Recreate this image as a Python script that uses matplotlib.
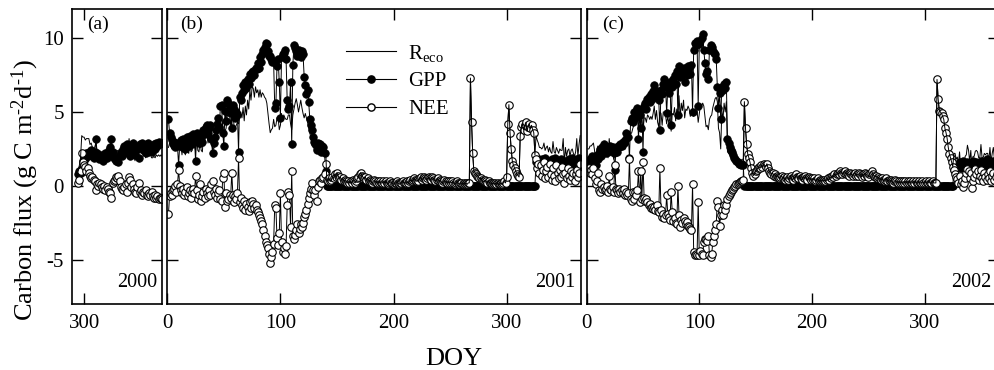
import numpy as np
import matplotlib.pyplot as plt
from matplotlib.lines import Line2D

plt.rcParams['font.family'] = 'Liberation Serif'
plt.rcParams['mathtext.fontset'] = 'custom'
plt.rcParams['mathtext.rm'] = 'Liberation Serif'
plt.rcParams['mathtext.it'] = 'Liberation Serif:italic'
plt.rcParams['axes.unicode_minus'] = False

# ---- 2000 (DOY 295-366) ----
doy_2000 = np.arange(295, 367)
gpp_2000 = [0.8, 1.0, 0.9, 1.2, 1.7, 1.9, 1.8, 2.2, 2.0, 2.3,
            2.1, 2.4, 2.0, 1.9, 2.3, 3.2, 2.2, 2.0, 1.8, 2.1,
            1.9, 1.7, 2.0, 2.2, 1.9, 2.0, 2.4, 2.6, 3.2, 2.3,
            1.9, 1.8, 1.7, 1.9, 1.6, 2.1, 2.3, 2.0, 2.5, 2.7,
            2.4, 2.8, 2.2, 2.6, 2.0, 2.7, 2.9, 2.3, 2.1, 2.6,
            2.5, 1.9, 2.8, 2.6, 2.9, 2.4, 2.7, 2.2, 2.8, 2.9,
            2.5, 2.7, 2.3, 2.6, 2.8, 2.5, 2.9, 2.7, 3.0, 2.8, 2.9, 2.9]
nee_2000 = [0.2, 0.4, 1.0, 2.2, 1.6, 1.4, 1.3, 1.0, 1.2, 0.9,
            0.7, 0.5, 0.6, 0.4, 0.3, -0.3, 0.1, 0.0, 0.2, 0.1,
            -0.1, -0.2, 0.0, -0.3, -0.1, -0.2, -0.4, -0.5, -0.8, 0.2,
            0.3, 0.4, 0.6, 0.5, 0.7, 0.3, -0.1, -0.2, -0.3, -0.1,
            0.1, -0.4, 0.2, 0.6, 0.4, -0.1, 0.1, -0.2, -0.4, -0.5,
            -0.1, 0.2, -0.4, -0.3, -0.6, -0.4, -0.5, -0.3, -0.6, -0.7,
            -0.5, -0.6, -0.4, -0.7, -0.8, -0.6, -0.8, -0.7, -0.9, -0.8, -0.8, -0.9]
reco_2000 = [1.0, 1.4, 1.9, 3.4, 3.3, 3.3, 3.1, 3.2, 3.2, 3.2,
             2.8, 2.9, 2.6, 2.3, 2.6, 2.9, 2.3, 2.0, 2.0, 2.2,
             1.8, 1.5, 2.0, 1.9, 1.8, 1.8, 2.0, 2.1, 2.4, 2.5,
             2.2, 2.2, 2.3, 2.4, 2.3, 2.4, 2.2, 1.8, 2.2, 2.6,
             2.5, 2.4, 2.4, 3.2, 2.4, 2.6, 3.0, 2.1, 1.7, 2.1,
             2.4, 2.1, 2.4, 2.3, 2.3, 2.0, 2.2, 1.9, 2.2, 2.2,
             2.0, 2.1, 1.9, 1.9, 2.0, 1.9, 2.1, 2.0, 2.1, 2.0, 2.1, 2.0]

# ---- 2001 (DOY 1-365) ----
doy_2001 = np.arange(1, 366)
gpp_2001_spring = [4.5, 3.6, 3.3, 3.1, 2.8, 3.0, 2.6, 2.9, 2.7, 1.4,
                   2.8, 3.1, 2.6, 3.2, 2.9, 2.5, 3.3, 3.0, 2.7, 3.4,
                   3.1, 2.8, 3.5, 3.2, 1.7, 3.6, 3.3, 2.9, 2.9, 3.4,
                   3.0, 3.8, 3.5, 4.0, 4.1, 3.6, 3.9, 4.1, 3.2, 2.2,
                   2.9, 3.3, 3.8, 4.2, 4.6, 4.0, 5.4, 5.5, 3.6, 2.7,
                   5.1, 4.4, 5.8, 5.6, 5.4, 4.9, 3.9, 5.5, 5.2, 4.6,
                   5.0, 4.8, 2.3, 6.0, 5.8, 6.3, 6.8, 6.5, 7.0, 6.6,
                   7.2, 6.9, 7.6, 7.3, 7.7, 7.8, 7.5, 8.0, 7.9, 8.3,
                   8.0, 8.7, 8.4, 8.9, 9.2, 9.4, 9.7, 9.6, 9.1, 8.8,
                   8.8, 8.6, 8.4, 8.4, 5.3, 5.6, 8.1, 8.6, 7.0, 4.6,
                   8.7, 8.9, 9.0, 9.2, 8.6, 5.8, 5.2, 5.4, 7.0, 2.8,
                   8.2, 9.5, 9.3, 9.1, 8.8, 9.2, 9.0, 8.7, 9.1, 8.9,
                   7.4, 6.8, 6.2, 6.5, 5.7, 4.5, 4.1, 3.8, 3.3, 3.0,
                   2.8, 2.4, 2.9, 2.7, 2.8, 2.3, 2.7, 2.6, 2.2, 1.0]
nee_2001_spring = [-1.9, -0.7, -0.5, -0.6, -0.3, -0.2, 0.0, -0.4, 0.1, 1.1,
                   0.0, -0.3, -0.5, -0.2, -0.6, -0.4, -0.1, -0.7, -0.5, -0.3,
                   -0.8, -0.4, -0.2, -0.5, 0.7, -0.3, -0.9, -0.6, 0.1, -1.0,
                   -0.7, -0.4, -0.8, -0.2, -0.5, -0.7, -0.3, -0.6, 0.1, 0.3,
                   -0.4, -0.6, -0.2, -0.8, -0.5, -0.3, -0.9, -1.0, 0.5, 0.9,
                   -1.4, -0.5, -1.0, -0.9, -0.6, -0.8, 0.9, -0.6, -1.1, -0.7,
                   -0.9, -0.5, 1.9, -1.1, -0.8, -1.3, -1.5, -1.0, -1.6, -1.2,
                   -1.4, -1.7, -1.1, -1.5, -1.0, -1.2, -1.5, -1.3, -1.6, -1.8,
                   -2.0, -2.2, -2.4, -2.6, -3.0, -3.4, -3.8, -4.0, -4.2, -4.6,
                   -5.2, -4.8, -4.5, -3.9, -1.3, -1.5, -3.5, -4.0, -3.2, -0.5,
                   -3.8, -4.5, -4.2, -4.6, -4.1, -1.3, -0.4, -0.6, -2.8, 1.0,
                   -3.4, -3.6, -3.3, -3.0, -2.6, -3.2, -2.9, -2.6, -2.8, -2.5,
                   -2.1, -1.9, -1.6, -1.2, -0.8, -0.5, -0.2, 0.2, -0.3, -0.6,
                   -0.3, -1.0, -0.1, 0.3, 0.4, 0.2, 0.5, 0.6, 0.8, 1.5]
reco_2001_spring = [2.6, 2.9, 2.8, 2.5, 2.5, 2.8, 2.6, 2.5, 2.8, 2.5,
                    2.8, 2.8, 2.1, 3.0, 2.3, 2.1, 3.2, 2.3, 2.2, 3.1,
                    2.3, 2.4, 3.3, 2.7, 2.4, 3.3, 2.4, 2.3, 3.0, 2.4,
                    2.3, 3.4, 2.7, 3.8, 3.6, 2.9, 3.6, 3.5, 3.3, 2.5,
                    2.5, 2.7, 3.6, 3.4, 4.1, 3.7, 4.5, 4.5, 4.1, 3.6,
                    3.7, 3.9, 4.8, 4.7, 4.8, 4.1, 4.8, 4.9, 4.1, 3.9,
                    4.1, 4.3, 4.2, 4.9, 5.0, 4.6, 5.3, 4.4, 5.4, 4.8,
                    5.8, 5.2, 6.5, 5.8, 6.7, 6.6, 6.0, 6.7, 6.3, 6.5,
                    6.0, 6.5, 6.0, 6.3, 6.2, 6.0, 5.9, 5.6, 4.9, 4.2,
                    3.6, 3.8, 3.9, 4.5, 4.0, 4.1, 4.6, 4.6, 3.8, 4.1,
                    4.9, 4.4, 4.8, 4.6, 4.5, 4.5, 4.8, 4.8, 4.2, 3.8,
                    4.8, 5.2, 5.6, 5.9, 5.5, 5.0, 5.4, 5.8, 5.3, 4.9,
                    4.6, 4.9, 4.6, 4.3, 3.9, 3.6, 3.2, 3.0, 2.8, 2.4,
                    2.5, 2.2, 2.6, 2.7, 2.9, 2.5, 2.8, 2.7, 2.6, 2.5]
# DOY 141-325: no uptake, GPP = 0 and Reco = NEE
nee_2001_dormant = [0.4, 0.3, 0.5, 0.3, 0.4, 0.6, 0.5, 0.8, 0.6, 0.9,
                    0.7, 0.5, 0.6, 0.4, 0.5, 0.3, 0.4, 0.3, 0.2, 0.3,
                    0.2, 0.3, 0.2, 0.4, 0.3, 0.2, 0.3, 0.5, 0.6, 0.8,
                    0.9, 0.7, 0.6, 0.5, 0.6, 0.4, 0.5, 0.3, 0.4, 0.3,
                    0.2, 0.3, 0.4, 0.3, 0.2, 0.3, 0.2, 0.3, 0.2, 0.2,
                    0.3, 0.2, 0.3, 0.2, 0.1, 0.2, 0.3, 0.2, 0.2, 0.1,
                    0.2, 0.2, 0.3, 0.2, 0.1, 0.2, 0.2, 0.3, 0.2, 0.2,
                    0.2, 0.3, 0.2, 0.3, 0.4, 0.3, 0.4, 0.5, 0.4, 0.3,
                    0.4, 0.3, 0.5, 0.6, 0.4, 0.5, 0.6, 0.5, 0.4, 0.5,
                    0.6, 0.5, 0.4, 0.6, 0.5, 0.4, 0.3, 0.4, 0.5, 0.3,
                    0.4, 0.3, 0.2, 0.3, 0.4, 0.3, 0.2, 0.3, 0.2, 0.3,
                    0.2, 0.3, 0.2, 0.1, 0.2, 0.3, 0.2, 0.1, 0.2, 0.2,
                    0.1, 0.2, 0.1, 0.2, 0.1, 0.2, 0.2, 7.3, 4.3, 2.2,
                    1.0, 0.9, 0.8, 0.7, 0.6, 0.5, 0.5, 0.4, 0.3, 0.3,
                    0.4, 0.3, 0.2, 0.3, 0.2, 0.2, 0.1, 0.2, 0.1, 0.2,
                    0.1, 0.2, 0.1, 0.1, 0.2, 0.1, 0.2, 0.3, 0.2, 0.6,
                    4.2, 5.5, 3.6, 2.5, 1.7, 1.4, 1.2, 1.0, 0.8, 0.7,
                    0.6, 3.4, 4.0, 4.2, 3.8, 4.1, 4.3, 3.7, 4.0, 4.2,
                    3.9, 4.1, 3.8, 3.6, 2.1]
gpp_2001_winter = [1.6, 1.9, 1.4, 1.7, 1.2, 1.8, 1.5, 1.3, 1.9, 1.6,
                   1.4, 1.7, 1.1, 1.5, 1.8, 1.3, 1.6, 1.9, 1.2, 1.5,
                   1.7, 1.4, 1.8, 1.1, 1.6, 1.3, 1.7, 1.5, 1.2, 1.8,
                   1.6, 1.4, 1.9, 1.3, 1.7, 1.5, 1.8, 1.4, 1.9, 1.6]
nee_2001_winter = [1.8, 1.2, 1.5, 0.9, 1.4, 0.7, 1.1, 1.6, 0.5, 1.0,
                   1.3, 0.6, 1.5, 0.8, 0.4, 1.2, 0.7, 0.3, 1.4, 0.9,
                   0.5, 1.1, 0.6, 1.3, 0.8, 0.2, 0.9, 0.5, 1.2, 0.7,
                   0.4, 1.0, 0.6, 0.9, 0.3, 0.8, 1.1, 0.6, 0.9, 1.5]
reco_2001_winter = [3.4, 3.1, 2.9, 2.6, 2.6, 2.5, 2.6, 2.9, 2.4, 2.6,
                    2.7, 2.3, 2.6, 2.3, 2.2, 3.0, 2.3, 2.2, 2.6, 2.4,
                    2.2, 2.5, 2.4, 2.4, 3.2, 1.5, 2.6, 2.0, 2.4, 2.5,
                    2.0, 2.4, 2.5, 2.2, 2.0, 2.3, 3.2, 2.0, 2.8, 3.4]
gpp_2001 = gpp_2001_spring + [0.0] * len(nee_2001_dormant) + gpp_2001_winter
nee_2001 = nee_2001_spring + nee_2001_dormant + nee_2001_winter
reco_2001 = reco_2001_spring + nee_2001_dormant + reco_2001_winter

# ---- 2002 (DOY 1-365) ----
doy_2002 = np.arange(1, 366)
gpp_2002_spring = [1.5, 1.3, 1.8, 1.6, 2.0, 1.7, 1.9, 1.4, 2.1, 1.8,
                   2.2, 2.5, 2.0, 2.6, 2.8, 2.4, 2.2, 2.6, 2.3, 2.5,
                   2.7, 2.4, 2.6, 2.2, 1.1, 2.5, 2.3, 2.7, 2.6, 2.8,
                   2.7, 3.0, 2.9, 3.1, 3.6, 3.3, 3.3, 1.9, 4.4, 4.6,
                   4.3, 5.0, 4.6, 5.1, 5.3, 3.2, 4.8, 3.9, 5.2, 2.3,
                   5.4, 5.6, 5.2, 5.9, 6.0, 5.7, 6.2, 5.9, 6.4, 6.8,
                   6.1, 6.4, 6.0, 5.8, 3.8, 6.5, 6.2, 6.9, 7.2, 6.8,
                   4.9, 6.6, 6.3, 7.0, 4.1, 6.7, 7.2, 7.5, 6.9, 7.8,
                   4.8, 8.1, 7.4, 7.9, 7.6, 8.0, 7.0, 7.8, 7.5, 8.1,
                   8.0, 7.6, 8.2, 5.0, 9.2, 9.7, 9.5, 9.8, 5.4, 9.6,
                   9.8, 10.0, 10.3, 9.2, 8.3, 7.6, 7.8, 7.2, 9.2, 9.5,
                   9.4, 9.1, 9.0, 8.9, 8.6, 6.7, 5.3, 6.3, 4.5, 6.7,
                   6.5, 6.9, 6.6, 7.0, 3.2, 2.9, 2.6, 2.4, 2.3, 2.1,
                   1.9, 1.8, 1.7, 1.6, 1.5, 1.5, 1.4, 1.5, 1.4, 0.0]
nee_2002_spring = [1.0, 1.2, 0.9, 1.1, 0.8, 1.2, 0.5, 0.1, 0.3, 0.9,
                   -0.3, -0.4, 0.1, -0.2, -0.1, -0.3, -0.2, 0.0, -0.4, 0.7,
                   -0.2, -0.3, -0.1, -0.4, 1.4, -0.2, -0.3, -0.5, -0.2, -0.4,
                   -0.3, -0.5, -0.2, -0.6, -0.4, -0.65, -0.5, 1.8, -0.9, -1.0,
                   -0.4, -0.9, -0.4, -0.6, -0.3, 1.0, -1.1, 1.0, -0.9, 1.6,
                   -0.8, -1.0, -0.9, -1.1, -1.3, -1.2, -1.5, -1.4, -1.55, -1.45,
                   -1.6, -1.3, -1.7, -1.8, 1.2, -1.65, -2.1, -1.9, -2.2, -2.0,
                   -0.65, -1.9, -2.1, -2.3, -0.4, -1.8, -2.4, -2.2, -2.5, -2.6,
                   0.0, -2.0, -2.8, -2.3, -2.5, -2.2, -2.4, -2.6, -2.45, -2.7,
                   -2.8, -2.9, -3.0, 0.1, -4.5, -4.7, -4.6, -4.7, -1.1, -4.7,
                   -4.4, -4.6, -4.7, -3.8, -3.6, -3.6, -3.7, -3.4, -4.7, -4.8,
                   -4.6, -3.8, -3.4, -3.0, -2.6, -1.0, -1.4, -2.7, -2.0, -1.65,
                   -2.0, -1.3, -1.65, -1.3, -0.9, -0.7, -0.55, -0.4, -0.3, -0.2,
                   -0.1, 0.0, 0.1, 0.15, 0.2, 0.25, 0.3, 0.3, 0.4, 5.7]
reco_2002_spring = [2.5, 2.5, 2.7, 2.7, 2.8, 2.9, 2.4, 1.5, 2.4, 2.7,
                    1.9, 2.1, 2.1, 2.4, 2.7, 2.1, 2.0, 2.6, 1.9, 3.2,
                    2.5, 2.1, 2.5, 1.8, 2.5, 2.3, 2.0, 2.2, 2.4, 2.4,
                    2.4, 2.5, 2.7, 2.5, 3.2, 2.7, 2.8, 3.7, 3.5, 3.6,
                    3.9, 4.1, 4.2, 4.5, 5.0, 4.2, 3.7, 4.9, 4.3, 3.9,
                    4.6, 4.6, 4.3, 4.8, 4.7, 4.5, 4.7, 4.5, 4.9, 5.4,
                    4.5, 5.1, 4.3, 4.0, 5.0, 4.9, 4.1, 5.0, 5.0, 4.8,
                    4.2, 4.7, 4.2, 4.7, 3.7, 4.9, 4.8, 5.3, 4.4, 5.2,
                    4.8, 6.1, 4.6, 5.6, 5.1, 5.8, 4.6, 5.2, 5.1, 5.4,
                    5.2, 4.7, 5.2, 5.1, 4.7, 5.0, 4.9, 5.1, 4.3, 4.9,
                    5.4, 5.4, 5.6, 5.4, 4.7, 4.0, 4.1, 3.8, 4.5, 4.7,
                    4.8, 5.3, 5.6, 5.9, 6.0, 5.7, 3.9, 3.6, 2.5, 5.1,
                    4.5, 5.6, 5.0, 5.7, 2.3, 2.2, 2.1, 2.0, 2.0, 1.9,
                    1.8, 1.8, 1.8, 1.8, 1.7, 1.8, 1.7, 1.8, 1.8, 5.7]
nee_2002_dormant = [3.9, 2.8, 2.15, 1.9, 1.6, 1.2, 0.9, 0.7, 0.8, 1.0,
                    1.1, 1.2, 1.3, 1.2, 1.4, 1.3, 1.5, 1.4, 1.3, 1.5,
                    1.2, 1.0, 0.9, 0.8, 0.9, 0.7, 0.8, 0.6, 0.7, 0.6,
                    0.5, 0.6, 0.7, 0.5, 0.6, 0.4, 0.5, 0.6, 0.4, 0.5,
                    0.7, 0.5, 0.4, 0.6, 0.5, 0.8, 0.6, 0.5, 0.7, 0.5,
                    0.4, 0.6, 0.5, 0.7, 0.5, 0.4, 0.6, 0.5, 0.4, 0.5,
                    0.4, 0.5, 0.3, 0.4, 0.5, 0.3, 0.4, 0.3, 0.4, 0.3,
                    0.4, 0.3, 0.4, 0.5, 0.4, 0.6, 0.5, 0.7, 0.6, 0.8,
                    0.7, 0.8, 0.9, 0.8, 1.0, 0.9, 0.8, 0.9, 1.0, 0.8,
                    0.9, 0.8, 0.7, 0.9, 0.8, 0.7, 0.8, 0.9, 0.7, 0.8,
                    0.7, 0.9, 0.8, 0.6, 0.8, 0.7, 0.9, 0.8, 0.7, 0.6,
                    0.8, 0.9, 1.0, 0.8, 0.7, 0.6, 0.7, 0.5, 0.6, 0.5,
                    0.4, 0.5, 0.4, 0.3, 0.4, 0.5, 0.3, 0.4, 0.3, 0.4,
                    0.3, 0.2, 0.3, 0.4, 0.3, 0.2, 0.3, 0.2, 0.3, 0.2,
                    0.3, 0.2, 0.3, 0.2, 0.3, 0.2, 0.3, 0.2, 0.2, 0.3,
                    0.2, 0.3, 0.2, 0.2, 0.3, 0.2, 0.2, 0.3, 0.2, 0.2,
                    0.3, 0.2, 0.2, 0.3, 0.2, 0.2, 0.3, 0.2, 0.2, 0.2,
                    7.2, 5.9, 5.1, 5.0, 4.9, 4.7, 4.5, 3.9, 3.6, 3.2,
                    2.6, 2.15, 1.9, 1.6, 1.3]
gpp_2002_winter = [1.1, 1.4, 1.2, 1.5, 1.3, 1.6, 1.2, 1.4, 1.7, 1.3,
                   1.5, 1.2, 1.6, 1.4, 1.1, 1.5, 1.3, 1.7, 1.4, 1.2,
                   1.6, 1.3, 1.5, 1.2, 1.7, 1.4, 1.6, 1.3, 1.5, 1.8,
                   1.4, 1.2, 1.6, 1.3, 1.5, 1.7, 1.4, 1.6, 1.3, 1.5]
nee_2002_winter = [1.1, 0.8, 0.6, 0.45, 0.2, 0.7, 0.1, 0.3, -0.1, 0.2,
                   0.5, 0.9, 1.15, 1.0, 0.55, 0.9, -0.15, 0.3, 0.6, 1.15,
                   0.8, 1.0, 0.4, 0.7, 1.1, 0.5, 0.3, 0.9, 0.6, 0.4,
                   0.8, 0.5, 1.0, 0.3, 0.7, 0.9, 0.4, 0.6, 0.8, 0.5]
reco_2002_winter = [2.2, 2.2, 1.8, 1.95, 1.5, 2.3, 1.3, 1.7, 1.6, 1.5,
                    2.0, 2.1, 2.75, 2.4, 1.65, 2.4, 1.15, 2.0, 2.0, 2.35,
                    2.4, 2.3, 1.9, 1.9, 2.8, 1.9, 1.9, 2.2, 2.1, 2.2,
                    2.2, 1.7, 2.6, 1.6, 2.2, 2.6, 1.8, 2.2, 2.1, 2.0]
gpp_2002 = gpp_2002_spring + [0.0] * len(nee_2002_dormant) + gpp_2002_winter
nee_2002 = nee_2002_spring + nee_2002_dormant + nee_2002_winter
reco_2002 = reco_2002_spring + nee_2002_dormant + reco_2002_winter

fig = plt.figure(figsize=(9.94, 3.70), dpi=100)
ax_a = fig.add_axes([0.0727, 0.178, 0.0905, 0.799])
ax_b = fig.add_axes([0.1683, 0.178, 0.4165, 0.799])
ax_c = fig.add_axes([0.5902, 0.178, 0.4148, 0.799])


def draw(ax, doy, reco, gpp, nee):
    ax.plot(doy, gpp, '-o', color='black', lw=0.7, ms=5.4,
            mfc='black', mec='black', mew=0.6)
    ax.plot(doy, nee, '-o', color='black', lw=0.7, ms=5.4,
            mfc='white', mec='black', mew=0.8)
    ax.plot(doy, reco, '-', color='black', lw=0.7)


draw(ax_a, doy_2000, reco_2000, gpp_2000, nee_2000)
draw(ax_b, doy_2001, reco_2001, gpp_2001, nee_2001)
draw(ax_c, doy_2002, reco_2002, gpp_2002, nee_2002)

for ax in (ax_a, ax_b, ax_c):
    ax.set_ylim(-8, 12)
    ax.set_yticks([-5, 0, 5, 10])
    ax.tick_params(direction='in', top=True, right=True, length=8, width=1,
                   labelsize=15)
    ax.tick_params(axis='x', pad=7)
    ax.tick_params(axis='y', pad=6)
    for s in ax.spines.values():
        s.set_linewidth(1.2)

ax_a.set_xlim(290, 366)
ax_a.set_xticks([300])
for ax in (ax_b, ax_c):
    ax.set_xlim(0, 366)
    ax.set_xticks([0, 100, 200, 300])
    ax.tick_params(labelleft=False)

ax_a.text(0.167, 0.975, '(a)', transform=ax_a.transAxes, fontsize=14, va='top', ha='left')
ax_b.text(0.031, 0.975, '(b)', transform=ax_b.transAxes, fontsize=14, va='top', ha='left')
ax_c.text(0.037, 0.975, '(c)', transform=ax_c.transAxes, fontsize=14, va='top', ha='left')
ax_a.text(0.941, 0.057, '2000', transform=ax_a.transAxes, fontsize=14.5, ha='right', va='baseline')
ax_b.text(0.985, 0.057, '2001', transform=ax_b.transAxes, fontsize=14.5, ha='right', va='baseline')
ax_c.text(0.982, 0.057, '2002', transform=ax_c.transAxes, fontsize=14.5, ha='right', va='baseline')

h_reco = Line2D([], [], color='black', lw=0.8)
h_gpp = Line2D([], [], color='black', lw=0.8, marker='o', ms=5.2, mfc='black', mec='black')
h_nee = Line2D([], [], color='black', lw=0.8, marker='o', ms=5.2, mfc='white', mec='black')
ax_b.legend([h_reco, h_gpp, h_nee], [r'R$_{\mathregular{eco}}$', 'GPP', 'NEE'],
            loc='upper left', bbox_to_anchor=(0.431, 0.885), frameon=False,
            fontsize=15, handlelength=2.4, handletextpad=0.6, labelspacing=0.4,
            borderpad=0, borderaxespad=0)

fig.text(0.025, 0.486, 'Carbon flux (g C m$^{\u2010\\mathregular{2}}$d$^{\u2010\\mathregular{1}}$)',
         rotation=90, ha='center', va='center', fontsize=19)
fig.text(0.457, 0.0135, 'DOY', ha='center', va='baseline', fontsize=19)

fig.savefig('out.png', dpi=100)
